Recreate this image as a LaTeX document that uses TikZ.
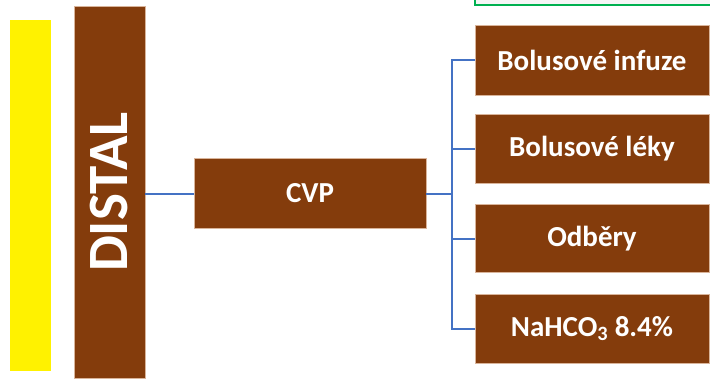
\documentclass[tikz,border=0pt]{standalone}
\usepackage{fontspec}
\setmainfont{Carlito}
\definecolor{brn}{HTML}{843C0C}
\definecolor{brnedge}{HTML}{D9B49A}
\definecolor{conn}{HTML}{4472C4}
\definecolor{grn}{HTML}{00B050}
\begin{document}
\begin{tikzpicture}[x=1pt,y=-1pt,
  box/.style={draw=brnedge, line width=0.8pt, fill=brn, text=white, inner sep=0pt,
    font=\fontsize{29}{31}\selectfont\bfseries},
  link/.style={draw=conn, line width=2pt}]
\useasboundingbox (0,0) rectangle (710,378);
\clip (0,0) rectangle (710,378);
\fill[white] (0,0) rectangle (710,378);
% green box at the top
\node[draw=grn, line width=1.5pt, fill=gray!8, minimum width=240, minimum height=20, inner sep=0pt] (top) at (595,-5) {};
% yellow bar
\node[fill=yellow, minimum width=41, minimum height=351, inner sep=0pt] (yel) at (30.5,195.5) {};
% DISTAL bar
\node[box, minimum width=71, minimum height=372, font=\fontsize{57}{60}\selectfont\bfseries] (distal) at (109.5,192) {\rotatebox{90}{DISTAL}};
% CVP
\node[box, minimum width=232, minimum height=70] (cvp) at (310,193.5) {CVP};
% right boxes
\node[box, minimum width=234, minimum height=70] (b1) at (592,60) {Bolusové infuze};
\node[box, minimum width=234, minimum height=69] (b2) at (592,148.5) {Bolusové léky};
\node[box, minimum width=234, minimum height=68] (b3) at (592,238.5) {Odběry};
\node[box, minimum width=234, minimum height=69] (b4) at (592,328.5) {NaHCO\textsubscript{3} 8.4\%};
% connectors
\coordinate (j) at (452,193.5);
\draw[link] (distal.east |- cvp.west) -- (cvp.west);
\draw[link] (cvp.east) -- (j);
\draw[link] (j) |- (b1.west);
\draw[link] (j) |- (b2.west);
\draw[link] (j) |- (b3.west);
\draw[link] (j) |- (b4.west);
\end{tikzpicture}
\end{document}
